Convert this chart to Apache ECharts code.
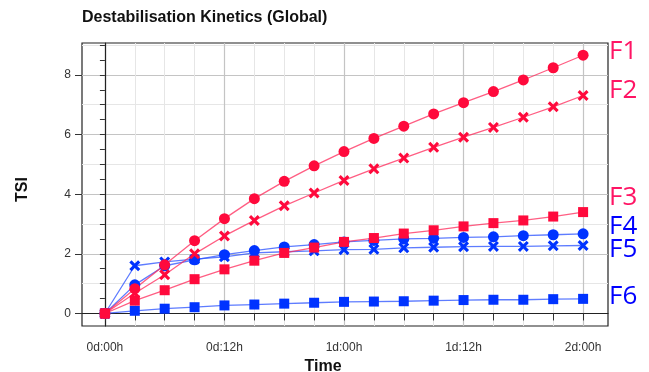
<!DOCTYPE html>
<html>
<head>
<meta charset="utf-8">
<script src="https://cdn.jsdelivr.net/npm/echarts@6/dist/echarts.min.js"></script>
<style>html,body{margin:0;padding:0;background:#fff;}#c{width:649px;height:372px;}</style>
</head>
<body>
<div id="c"></div>
<script>
// time in hours
const hours = [0,3,6,9,12,15,18,21,24,27,30,33,36,39,42,45,48];
const F1 = [0,0.83,1.63,2.44,3.18,3.85,4.43,4.95,5.43,5.87,6.28,6.69,7.07,7.44,7.83,8.24,8.66];
const F2 = [0,0.68,1.30,2.00,2.60,3.12,3.61,4.04,4.46,4.85,5.21,5.57,5.91,6.24,6.58,6.93,7.31];
const F3 = [0,0.43,0.78,1.15,1.48,1.77,2.03,2.21,2.40,2.53,2.68,2.79,2.92,3.03,3.12,3.25,3.40];
const F4 = [0,0.96,1.60,1.80,1.97,2.11,2.23,2.31,2.40,2.45,2.50,2.52,2.55,2.57,2.61,2.64,2.67];
const F5 = [0,1.60,1.73,1.82,1.90,2.03,2.07,2.10,2.14,2.15,2.20,2.22,2.24,2.25,2.25,2.27,2.28];
const F6 = [0,0.09,0.16,0.21,0.27,0.30,0.33,0.36,0.39,0.40,0.41,0.43,0.45,0.46,0.46,0.48,0.49];
const seriesNames = ['F1','F2','F3','F4','F5','F6'];
const xTickHours = [0,3,6,9,12,15,18,21,24,27,30,33,36,39,42,45,48];
const xLabelHours = [0,12,24,36,48];
const xTickLabels = ['0d:00h','0d:12h','1d:00h','1d:12h','2d:00h'];
const yMinorTicks = [0,0.5,1,1.5,2,2.5,3,3.5,4,4.5,5,5.5,6,6.5,7,7.5,8,8.5,9];
const yGridValues = [0,1,2,3,4,5,6,7,8,9];
const yMajorTicks = [0,2,4,6,8];

const RED = '#ff0a3c', RED_LINE = 'rgba(255,40,90,0.75)';
const BLUE = '#0033ff', BLUE_LINE = 'rgba(40,80,255,0.75)';
const XPATH = 'path://M0,2 L2,0 L5,3 L8,0 L10,2 L7,5 L10,8 L8,10 L5,7 L2,10 L0,8 L3,5 Z';
const X_MIN = -2.3, X_MAX = 50.5, Y_MIN = -0.42, Y_MAX = 9.07;
const FONT = '"Liberation Sans", Arial, sans-serif';

function mk(name, vals, color, lineColor, symbol, size) {
  return {
    name: name, type: 'line', xAxisIndex: 0, yAxisIndex: 0,
    data: hours.map((h, i) => [h, vals[i]]),
    symbol: symbol, symbolSize: size, showSymbol: true,
    itemStyle: { color: color, opacity: 1 },
    lineStyle: { color: lineColor, width: 1.3 },
    emphasis: { disabled: true }, animation: false, z: 5
  };
}

const chart = echarts.init(document.getElementById('c'), null, { renderer: 'canvas' });
const labelMap = {};
xLabelHours.forEach((h, i) => labelMap[h] = xTickLabels[i]);

const baseX = { type: 'value', min: X_MIN, max: X_MAX, position: 'bottom', gridIndex: 0 };
const baseY = { type: 'value', min: Y_MIN, max: Y_MAX, position: 'left', gridIndex: 0 };

chart.setOption({
  animation: false,
  backgroundColor: '#fff',
  title: {
    text: 'Destabilisation Kinetics (Global)', left: 77, top: 5,
    textStyle: { fontFamily: FONT, fontSize: 16, fontWeight: 'bold', color: '#111' }
  },
  grid: { left: 82, right: 41, top: 43, bottom: 46, show: true, borderColor: '#222', borderWidth: 1.2,
    backgroundColor: 'transparent', containLabel: false, outerBoundsMode: 'none' },
  xAxis: [
    Object.assign({}, baseX, {
      name: 'Time', nameLocation: 'middle', nameGap: 30,
      nameTextStyle: { fontFamily: FONT, fontSize: 16, fontWeight: 'bold', color: '#111', padding: [0, 44, 0, 0] },
      axisLine: { show: true, lineStyle: { color: '#222', width: 1.2 } },
      axisTick: { show: true, length: 7, customValues: xTickHours, lineStyle: { color: '#333', width: 1 } },
      axisLabel: { show: true, customValues: xLabelHours, formatter: v => labelMap[v] || '', margin: 16,
        fontFamily: FONT, fontSize: 12, color: '#333' },
      splitLine: { show: true, lineStyle: { color: '#e6e6e6', width: 1 } }
    }),
    Object.assign({}, baseX, {
      axisLine: { show: false },
      axisTick: { show: false, customValues: xLabelHours },
      axisLabel: { show: false },
      splitLine: { show: true, lineStyle: { color: '#c4c4c4', width: 1.2 } }
    })
  ],
  yAxis: [
    Object.assign({}, baseY, {
      name: 'TSI', nameLocation: 'middle', nameGap: 51, nameRotate: 90,
      nameTextStyle: { fontFamily: FONT, fontSize: 16, fontWeight: 'bold', color: '#111', padding: [0, 10, 0, 0] },
      axisLine: { show: true, lineStyle: { color: '#222', width: 1.2 } },
      axisTick: { show: true, length: 5, customValues: yMinorTicks, lineStyle: { color: '#333' } },
      axisLabel: { show: false },
      splitLine: { show: false }
    }),
    Object.assign({}, baseY, {
      axisLine: { show: false },
      axisTick: { show: false, customValues: yGridValues },
      axisLabel: { show: false },
      splitLine: { show: true, lineStyle: { color: '#e6e6e6', width: 1.2 } }
    }),
    Object.assign({}, baseY, {
      axisLine: { show: false },
      axisTick: { show: true, length: 7, customValues: yMajorTicks, lineStyle: { color: '#333' } },
      axisLabel: { show: true, customValues: yMajorTicks, margin: 11, fontFamily: FONT, fontSize: 12, color: '#333' },
      splitLine: { show: true, lineStyle: { color: '#c4c4c4', width: 1.2 } }
    })
  ],
  series: [
    mk('F6', F6, BLUE, BLUE_LINE, 'rect', 10),
    mk('F5', F5, BLUE, BLUE_LINE, XPATH, 11),
    mk('F4', F4, BLUE, BLUE_LINE, 'circle', 11),
    mk('F3', F3, RED, RED_LINE, 'rect', 10),
    mk('F2', F2, RED, RED_LINE, XPATH, 11),
    mk('F1', F1, RED, RED_LINE, 'circle', 11)
  ],
  graphic: [
    { type: 'text', left: 609, top: 39, style: { text: seriesNames[0], fill: '#ff1464', font: '26px "Open Sans", sans-serif' } },
    { type: 'text', left: 609, top: 78, style: { text: seriesNames[1], fill: '#ff1464', font: '26px "Open Sans", sans-serif' } },
    { type: 'text', left: 609, top: 185, style: { text: seriesNames[2], fill: '#ff1464', font: '26px "Open Sans", sans-serif' } },
    { type: 'text', left: 609, top: 214, style: { text: seriesNames[3], fill: '#0000ff', font: '26px "Open Sans", sans-serif' } },
    { type: 'text', left: 609, top: 237, style: { text: seriesNames[4], fill: '#0000ff', font: '26px "Open Sans", sans-serif' } },
    { type: 'text', left: 609, top: 284, style: { text: seriesNames[5], fill: '#0000ff', font: '26px "Open Sans", sans-serif' } }
  ]
});
</script>
</body>
</html>
